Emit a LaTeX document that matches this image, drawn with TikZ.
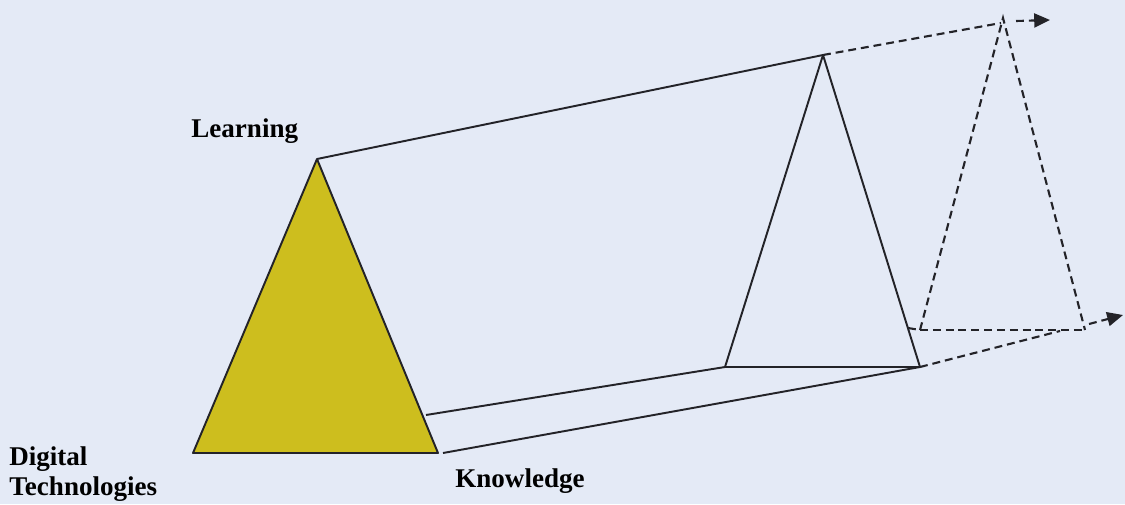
\documentclass[tikz,border=0pt]{standalone}
\usepackage{fontspec}
\setmainfont{Liberation Serif}
\usetikzlibrary{arrows.meta, calc, positioning}
\definecolor{paper}{RGB}{228,234,246}
\definecolor{corn}{RGB}{205,190,30}
\definecolor{ink}{RGB}{35,35,40}

\begin{document}
\begin{tikzpicture}[x=0.02cm, y=-0.02cm,
  edge/.style={ink, line width=1.1pt, line join=round},
  ghost/.style={ink, line width=1.2pt, dash pattern=on 4.5pt off 2.8pt},
  tip/.style={-{Triangle[length=9pt, width=8pt]}},
  lbl/.style={font=\fontsize{15.4}{17}\selectfont\bfseries, inner sep=0pt, anchor=base west}]

  % --- Background ---
  \fill[paper] (0,0) rectangle (1125,504);
  \useasboundingbox (0,0) rectangle (1125,504);

  % --- Corner points ---
  \coordinate (learn) at (317,159);
  \coordinate (digit) at (193,453);
  \coordinate (know)  at (438,453);
  \coordinate (knowR) at (443,453);
  \coordinate (side)  at (426,415);

  \coordinate (midT) at (823,55);
  \coordinate (midL) at (725,367);
  \coordinate (midR) at (920,367);
  \coordinate (midS) at (908,328);

  \coordinate (nxtT) at (1003,18);
  \coordinate (nxtL) at (920,330);
  \coordinate (nxtR) at (1085,330);
  \coordinate (nxtB) at (1060,331);
  \coordinate (nxtM) at (1001,23);

  \coordinate (goT0) at (1016,21);
  \coordinate (goT)  at (1050,20);
  \coordinate (goB0) at (1089,324);
  \coordinate (goB)  at (1123,315);

  % --- Yellow triangle ---
  \filldraw[corn, draw=ink, line width=1.1pt, line join=round]
    (learn) -- (digit) -- (know) -- cycle;

  % --- Solid prism ---
  \draw[edge] (learn) -- (midT);
  \draw[edge] (side) -- (midL);
  \draw[edge] (knowR) -- (midR);
  \draw[edge] (midL) -- (midT) -- (midR) -- cycle;

  % --- Dashed prism ---
  \draw[ghost] (midT) -- (nxtM);
  \draw[ghost] (midR) -- (nxtB);
  \draw[ghost] (midS) -- (nxtL);
  \draw[ghost] (nxtL) -- (nxtT) -- (nxtR);
  \draw[ghost] (nxtL) -- (nxtR);

  % --- Arrows ---
  \draw[ghost, tip] (goT0) -- (goT);
  \draw[ghost, tip] (goB0) -- (goB);

  % --- Labels ---
  \node[lbl] (learning)  at (191,137) {Learning};
  \node[lbl] (knowledge) at (455,487) {Knowledge};
  \node[lbl] (digital)   at (9,465)   {Digital};
  \node[lbl] (techno)    at (9,495)   {Technologies};

\end{tikzpicture}
\end{document}
